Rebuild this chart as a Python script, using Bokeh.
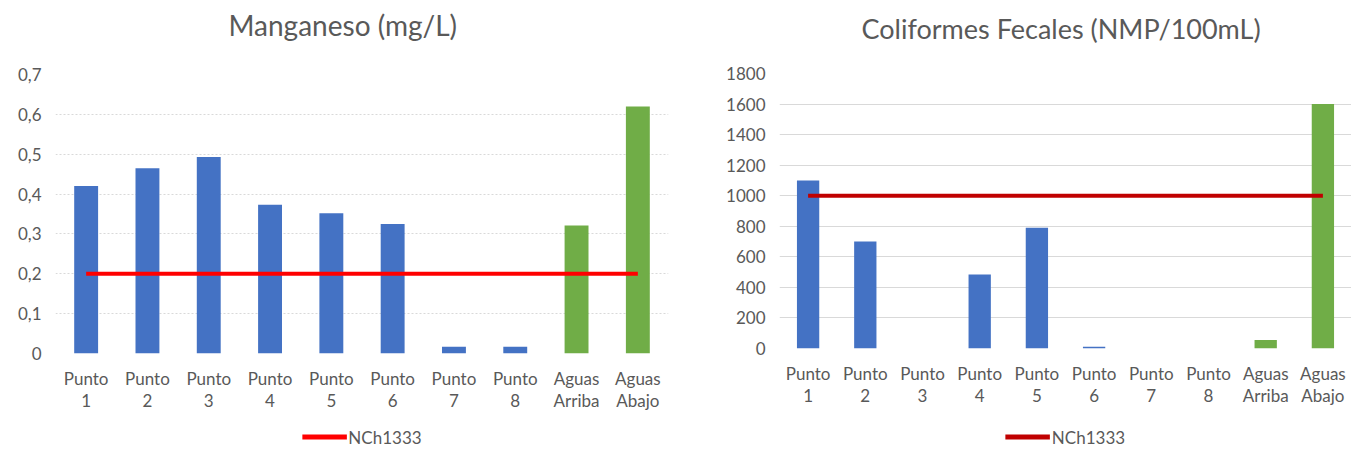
from bokeh.plotting import figure
from bokeh.models import (Range1d, FixedTicker, CustomJSTickFormatter, LinearAxis,
                          Legend, LegendItem, ColumnDataSource, Title)
from bokeh.layouts import row, column
from bokeh.embed import file_html
from bokeh.resources import INLINE

categories = ["Punto 1", "Punto 2", "Punto 3", "Punto 4", "Punto 5", "Punto 6",
              "Punto 7", "Punto 8", "Aguas Arriba", "Aguas Abajo"]
groups = ["punto"] * 8 + ["aguas"] * 2
manganeso = [0.42, 0.465, 0.493, 0.373, 0.352, 0.325, 0.017, 0.017, 0.321, 0.62]
coliformes = [1100, 700, 0, 485, 790, 12, 0, 0, 55, 1600]
mn_limit = 0.2
cf_limit = 1000
mn_ticks = [0, 0.1, 0.2, 0.3, 0.4, 0.5, 0.6, 0.7]
cf_ticks = [0, 200, 400, 600, 800, 1000, 1200, 1400, 1600, 1800]
legend_label = "NCh1333"

FONT = "Lato"
TXT = "#595959"
group_colors = {"punto": "#4472C4", "aguas": "#70AD47"}
positions = list(range(len(categories)))
line1 = {i: c.split(" ")[0] for i, c in enumerate(categories)}
line2 = {i: c.split(" ")[1] for i, c in enumerate(categories)}

MAIN_H = 426
LEG_H = 21


def style_axis(ax, size="17px"):
    ax.axis_line_color = None
    ax.major_tick_line_color = None
    ax.minor_tick_line_color = None
    ax.major_tick_out = 0
    ax.major_tick_in = 0
    ax.major_label_text_font = FONT
    ax.major_label_text_font_size = size
    ax.major_label_text_color = TXT


def make_chart(title, values, limit, ticks, ymax, limit_color, grid_dash,
               width, mb_left, mb_right, mb_top, mb_bottom, title_size, title_x,
               title_gap, legend_center, tick_fmt):
    p = figure(width=width, height=MAIN_H, x_range=Range1d(-0.5, len(categories) - 0.5),
               y_range=Range1d(0, ymax), output_backend="svg", toolbar_location=None,
               x_axis_location=None, y_axis_location=None, title=None,
               min_border_left=mb_left, min_border_right=mb_right,
               min_border_top=mb_top, min_border_bottom=mb_bottom)
    p.outline_line_color = None
    p.background_fill_color = "white"
    p.border_fill_color = "white"

    src = ColumnDataSource(dict(x=positions, val=values,
                                color=[group_colors[g] for g in groups]))
    p.vbar(x="x", top="val", width=0.39, fill_color="color", line_color=None, source=src)
    p.line(x=[positions[0], positions[-1]], y=[limit, limit],
           line_width=4, line_color=limit_color)

    # y axis
    yax = LinearAxis(ticker=FixedTicker(ticks=ticks), formatter=tick_fmt)
    style_axis(yax)
    yax.major_label_standoff = 14
    p.add_layout(yax, "left")

    # x axis: two label rows
    xax1 = LinearAxis(ticker=FixedTicker(ticks=positions), major_label_overrides=line1)
    style_axis(xax1)
    xax1.major_label_standoff = 14
    p.add_layout(xax1, "below")

    xax2 = LinearAxis(ticker=FixedTicker(ticks=positions), major_label_overrides=line2)
    style_axis(xax2)
    xax2.major_label_standoff = -2
    p.add_layout(xax2, "below")

    # invisible spacer axis between the plot area and the title
    gap = LinearAxis(ticker=FixedTicker(ticks=[positions[0]]), axis_line_color=None,
                     major_tick_line_color=None, minor_tick_line_color=None,
                     major_tick_out=title_gap, major_tick_in=0, major_label_standoff=0,
                     major_label_text_font_size="1px", major_label_text_color=None)
    p.add_layout(gap, "above")

    ttl = Title(text=title, align="left", offset=title_x - mb_left, text_font=FONT,
                text_font_size=title_size, text_font_style="normal", text_color=TXT)
    p.add_layout(ttl, "above")

    p.xgrid.grid_line_color = None
    p.ygrid.grid_line_color = "#D9D9D9"
    p.ygrid.grid_line_width = 1
    p.ygrid.ticker = FixedTicker(ticks=ticks)
    if grid_dash:
        p.ygrid.grid_line_dash = grid_dash

    # legend strip below the chart (legend centred in its frame)
    lf = figure(width=width, height=LEG_H, x_range=Range1d(0, 1), y_range=Range1d(-2, -1),
                x_axis_type=None, y_axis_type=None, output_backend="svg",
                toolbar_location=None, min_border=0,
                min_border_left=max(0, 2 * legend_center - width))
    lf.outline_line_color = None
    lf.xgrid.grid_line_color = None
    lf.ygrid.grid_line_color = None
    # same limit series as the chart; lies outside this strip's view, only its legend shows
    ln = lf.line(x=[positions[0], positions[-1]], y=[limit, limit],
                 line_width=5, line_color=limit_color)
    leg = Legend(items=[LegendItem(label=legend_label, renderers=[ln])],
                 orientation="horizontal", location="center")
    leg.border_line_color = None
    leg.background_fill_alpha = 0
    leg.label_text_font = FONT
    leg.label_text_font_size = "17px"
    leg.label_text_color = TXT
    leg.glyph_width = 45
    leg.glyph_height = 16
    leg.label_height = 16
    leg.label_standoff = 2
    leg.padding = 0
    leg.margin = 0
    lf.add_layout(leg)
    return column(p, lf, spacing=0)


mn_fmt = CustomJSTickFormatter(code="return tick == 0 ? '0' : tick.toFixed(1).replace('.', ',');")
cf_fmt = CustomJSTickFormatter(code="return String(Math.round(tick));")

c1 = make_chart("Manganeso (mg/L)", manganeso, mn_limit, mn_ticks, 0.7, "#FF0000", "2 2",
                676, 55, 8, 72, MAIN_H - 353, "28px", 228, 28, 365, mn_fmt)
c2 = make_chart("Coliformes Fecales (NMP/100mL)", coliformes, cf_limit, cf_ticks, 1800, "#C00000", None,
                675, 85, 0, 73, MAIN_H - 348, "27px", 843 - 676, 24, 1065 - 676, cf_fmt)

layout = row(c1, c2, spacing=0)
open("out.html", "w").write(file_html(layout, INLINE))
